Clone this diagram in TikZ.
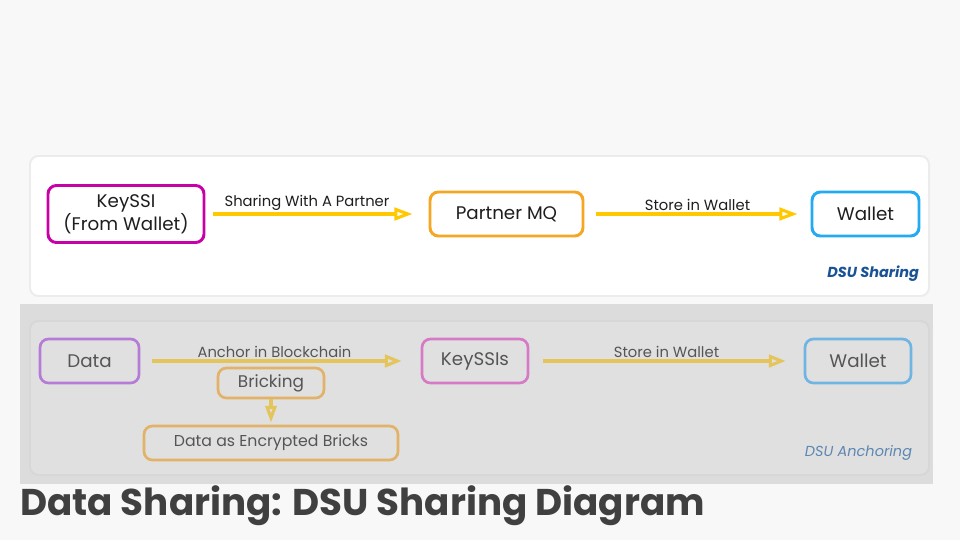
\documentclass[tikz,border=0pt]{standalone}
\usepackage{fontspec}
\setmainfont{Poppins}
\usetikzlibrary{arrows.meta}
\usepackage{xcolor}
\definecolor{mybg}{HTML}{F8F8F8}
\definecolor{mypanelline}{HTML}{ECECEC}
\definecolor{myband}{HTML}{DCDCDC}
\definecolor{myinner}{HTML}{E0E0E0}
\definecolor{myinnerline}{HTML}{D7D7D7}
\definecolor{mymagenta}{HTML}{C800A8}
\definecolor{myorange}{HTML}{F5A623}
\definecolor{myblue}{HTML}{22AAF2}
\definecolor{myyellow}{HTML}{FFC800}
\definecolor{mytext}{HTML}{1E1E1E}
\definecolor{mynavy}{HTML}{1A5296}
\definecolor{mypurple}{HTML}{B57BD6}
\definecolor{mypink}{HTML}{D67AC6}
\definecolor{mylightblue}{HTML}{70B4E2}
\definecolor{mytan}{HTML}{E2B266}
\definecolor{myochre}{HTML}{E4C55C}
\definecolor{mygraytext}{HTML}{555555}
\definecolor{mysteel}{HTML}{5C87B2}
\definecolor{mytitle}{HTML}{404040}

\begin{document}
\begin{tikzpicture}[
  box/.style={draw, line width=2.1pt, rounded corners=6pt, align=center, inner sep=0pt, text=mytext, font=\fontsize{13}{16.4}\selectfont},
  lowbox/.style={box, line width=1.9pt, text=mygraytext},
  link/.style={myyellow, line width=2.2pt, -{Triangle[open, length=13pt, width=9pt]}},
  lowlink/.style={link, myochre, -{Triangle[open, length=12pt, width=9pt]}},
  linklabel/.style={midway, above, inner sep=1.5pt, text=mytext, font=\fontsize{10.5}{12}\selectfont},
  lowlabel/.style={linklabel, text=mygraytext}
]

% BACKGROUND
\fill[mybg] (0,0) rectangle (24,13.5);
\useasboundingbox (0,0) rectangle (24,13.5);

% SHARING PANEL
\begin{scope}
\draw[mypanelline, fill=white, line width=1.4pt, rounded corners=6pt] (0.75,6.1) rectangle (23.225,9.6);

\node[box, draw=mymagenta, minimum width=3.9cm, minimum height=1.425cm] (keyssi) at (3.15,8.15) {KeySSI\\(From Wallet)};
\node[box, draw=myorange, minimum width=3.825cm, minimum height=1.1cm] (partnermq) at (12.6625,8.15) {Partner MQ};
\node[box, draw=myblue, minimum width=2.675cm, minimum height=1.1cm] (wallet) at (21.6375,8.15) {Wallet};

\draw[link, shorten <=0.2cm, shorten >=0.4cm] (keyssi.east) -- node[linklabel, xshift=-0.25cm] {Sharing With A Partner} (partnermq.west);
\draw[link, shorten <=0.3cm, shorten >=0.325cm] (partnermq.east) -- node[linklabel] {Store in Wallet} (wallet.west);

\node[anchor=east, text=mynavy, font=\fontsize{10.3}{12}\selectfont\bfseries\itshape] (sharingtag) at (23.1,6.65) {DSU Sharing};
\end{scope}

% ANCHORING PANEL
\begin{scope}
\fill[myband] (0.5,1.4) rectangle (23.325,5.9);
\draw[myinnerline, fill=myinner, line width=1.4pt, rounded corners=6pt] (0.75,1.625) rectangle (23.225,5.475);

\node[lowbox, draw=mypurple, minimum width=2.475cm, minimum height=1.1cm] (data) at (2.2375,4.475) {Data};
\node[lowbox, draw=mypink, minimum width=2.65cm, minimum height=1.1cm] (keyssis) at (11.875,4.475) {KeySSIs};
\node[lowbox, draw=mylightblue, minimum width=2.65cm, minimum height=1.1cm] (lowwallet) at (21.45,4.475) {Wallet};
\node[lowbox, draw=mytan, minimum width=2.65cm, minimum height=0.75cm, font=\fontsize{12}{14}\selectfont] (bricking) at (6.775,3.925) {Bricking};
\node[lowbox, draw=mytan, minimum width=6.35cm, minimum height=0.85cm, font=\fontsize{11.2}{14}\selectfont] (bricks) at (6.775,2.425) {Data as Encrypted Bricks};

\draw[lowlink, shorten <=0.3cm, shorten >=0.475cm] (data.east) -- node[lowlabel, xshift=-0.15cm] {Anchor in Blockchain} (keyssis.west);
\draw[lowlink, shorten <=0.35cm, shorten >=0.45cm] (keyssis.east) -- node[lowlabel] {Store in Wallet} (lowwallet.west);
\draw[lowlink, shorten >=0.05cm, -{Triangle[open, length=12pt, width=8pt]}] (bricking.south) -- (bricks.north);

\node[anchor=east, text=mysteel, font=\fontsize{10.3}{12}\selectfont\itshape] (anchoringtag) at (22.925,2.175) {DSU Anchoring};
\end{scope}

% TITLE
\node[anchor=base west, inner sep=0pt, text=mytitle, font=\fontsize{26.5}{30}\selectfont\bfseries] (title) at (0.5,0.625) {Data Sharing: DSU Sharing Diagram};

\end{tikzpicture}
\end{document}
